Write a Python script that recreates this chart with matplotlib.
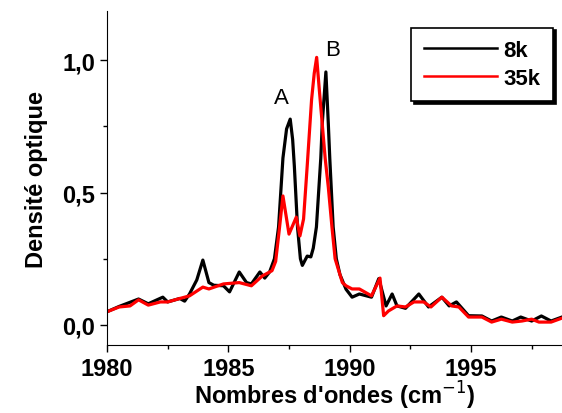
import numpy as np
import matplotlib.pyplot as plt
from matplotlib.ticker import MultipleLocator

# spectre 8k (noir)
x_8k = [1980.0, 1980.5, 1981.3, 1981.7, 1982.3, 1982.5, 1983.0, 1983.2, 1983.4, 1983.7,
        1983.95, 1984.2, 1984.4, 1984.8, 1985.05, 1985.45, 1985.75, 1985.95, 1986.3, 1986.5,
        1986.7, 1986.9, 1987.07, 1987.25, 1987.4, 1987.55, 1987.65, 1987.72, 1987.85, 1987.97,
        1988.05, 1988.25, 1988.4, 1988.5, 1988.63, 1988.81, 1988.87, 1989.02, 1989.12, 1989.18,
        1989.32, 1989.45, 1989.6, 1989.85, 1990.1, 1990.4, 1990.9, 1991.2, 1991.5, 1991.75,
        1991.95, 1992.3, 1992.85, 1993.25, 1993.8, 1994.1, 1994.4, 1994.9, 1995.45, 1995.85,
        1996.25, 1996.7, 1997.05, 1997.5, 1997.9, 1998.3, 1998.75]
y_8k = [0.05, 0.07, 0.098, 0.08, 0.105, 0.087, 0.10, 0.09, 0.117, 0.17,
        0.245, 0.16, 0.15, 0.148, 0.125, 0.20, 0.16, 0.155, 0.20, 0.177,
        0.20, 0.25, 0.37, 0.63, 0.74, 0.777, 0.70, 0.60, 0.37, 0.25,
        0.225, 0.26, 0.257, 0.29, 0.37, 0.63, 0.76, 0.955, 0.76, 0.63,
        0.37, 0.25, 0.19, 0.135, 0.105, 0.117, 0.105, 0.175, 0.072, 0.117,
        0.072, 0.063, 0.117, 0.068, 0.105, 0.072, 0.087, 0.035, 0.034, 0.015,
        0.03, 0.015, 0.03, 0.015, 0.034, 0.015, 0.03]

# spectre 35k (rouge)
x_35k = [1980.0, 1980.5, 1980.95, 1981.3, 1981.7, 1982.2, 1982.5, 1983.0, 1983.4, 1983.95,
         1984.2, 1984.8, 1985.45, 1985.95, 1986.4, 1986.8, 1986.95, 1987.1, 1987.25, 1987.5,
         1987.8, 1987.95, 1988.1, 1988.25, 1988.43, 1988.54, 1988.64, 1988.75, 1988.99, 1989.12,
         1989.27, 1989.4, 1989.7, 1989.85, 1990.1, 1990.4, 1990.9, 1991.25, 1991.4, 1991.6,
         1991.95, 1992.3, 1992.65, 1993.05, 1993.35, 1993.8, 1994.2, 1994.5, 1994.9, 1995.45,
         1995.85, 1996.25, 1996.7, 1997.1, 1997.5, 1997.8, 1998.3, 1998.75]
y_35k = [0.05, 0.068, 0.072, 0.095, 0.075, 0.087, 0.087, 0.10, 0.11, 0.143,
         0.136, 0.155, 0.16, 0.148, 0.185, 0.205, 0.24, 0.36, 0.487, 0.343,
         0.407, 0.336, 0.40, 0.60, 0.85, 0.95, 1.01, 0.887, 0.63, 0.52,
         0.37, 0.25, 0.16, 0.148, 0.136, 0.136, 0.11, 0.177, 0.035, 0.053,
         0.072, 0.068, 0.087, 0.087, 0.068, 0.105, 0.072, 0.068, 0.03, 0.03,
         0.011, 0.022, 0.011, 0.015, 0.022, 0.011, 0.011, 0.026]

plt.rcParams['font.family'] = ['Liberation Sans', 'DejaVu Sans']

fig = plt.figure(figsize=(5.62, 4.14), dpi=100)
ax = fig.add_axes([107/562, 1 - 346/414, 1 - 107/562, (346 - 12)/414])

ax.plot(x_8k, y_8k, color='black', lw=2.3, label='8k', solid_joinstyle='round')
ax.plot(x_35k, y_35k, color='red', lw=2.3, label='35k', solid_joinstyle='round')

ax.set_xlim(1980, 1998.75)
ax.set_ylim(-0.0755, 1.185)

ax.spines['top'].set_visible(False)
ax.spines['right'].set_visible(False)
ax.xaxis.set_major_locator(MultipleLocator(5))
ax.xaxis.set_minor_locator(MultipleLocator(2.5))
ax.yaxis.set_major_locator(MultipleLocator(0.5))
ax.yaxis.set_minor_locator(MultipleLocator(0.25))
ax.yaxis.set_major_formatter(plt.FuncFormatter(lambda v, p: ('%.1f' % v).replace('.', ',')))
ax.tick_params(which='major', direction='out', length=5, width=1, labelsize=17)
ax.tick_params(which='minor', direction='out', length=3, width=1)
for lab in ax.get_xticklabels() + ax.get_yticklabels():
    lab.set_fontweight('bold')

ax.set_xlabel("Nombres d'ondes (cm$^{-1}$)", fontsize=17, fontweight='bold', labelpad=-1)
ax.set_ylabel('Densité optique', fontsize=17, fontweight='bold', labelpad=10)

ax.text(1987.2, 0.82, 'A', fontsize=16, ha='center', va='bottom')
ax.text(1989.3, 1.0, 'B', fontsize=16, ha='center', va='bottom')

leg = ax.legend(loc='upper right', bbox_to_anchor=(0.98, 0.95), borderaxespad=0,
                fancybox=False, shadow={'color': 'black', 'alpha': 1}, edgecolor='black',
                prop={'weight': 'bold', 'size': 16}, handlelength=3.3, handletextpad=0.3,
                labelspacing=0.3, borderpad=0.55, framealpha=1)
leg.get_frame().set_linewidth(1.2)
for line in leg.get_lines():
    line.set_linewidth(1.8)

fig.savefig('out.png', dpi=100)
